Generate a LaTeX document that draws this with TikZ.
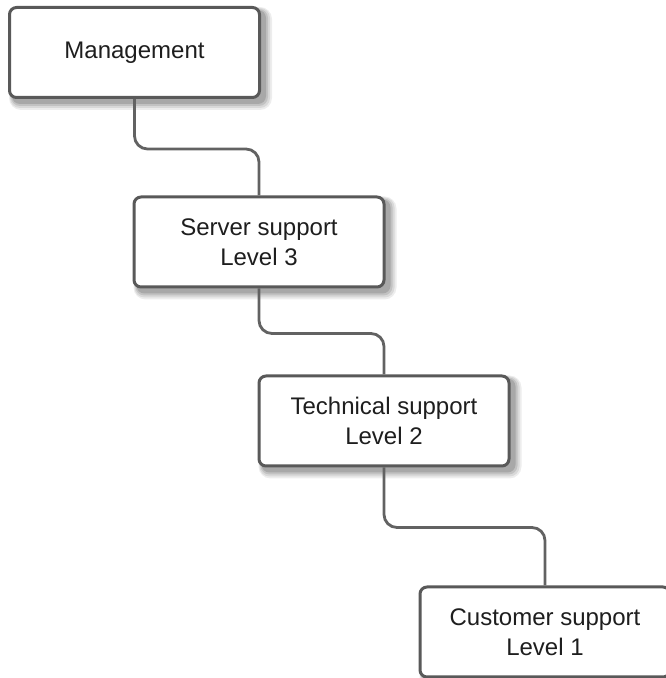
\documentclass[tikz,border=0pt]{standalone}
\usepackage{fontspec}
\setmainfont{Liberation Sans}
\usetikzlibrary{calc, backgrounds}

\definecolor{boxline}{HTML}{595959}
\definecolor{linkline}{HTML}{626262}
\definecolor{boxtext}{HTML}{1E1E1E}

\begin{document}
\begin{tikzpicture}[x=1pt, y=1pt,
    level/.style={draw=boxline, line width=3pt, fill=white, rounded corners=7pt,
        minimum width=250pt, minimum height=90pt, inner sep=0pt, align=center,
        text=boxtext, font=\fontsize{24}{30}\selectfont},
    link/.style={draw=linkline, line width=2.8pt, rounded corners=13pt}]
    \useasboundingbox (0, 0) rectangle (665, 678);

    \node [level] (mgmt) at (134.5, 625.5) {Management};
    \node [level] (server) at (259, 436) {Server support\\Level 3};
    \node [level] (tech) at (384, 257) {Technical support\\Level 2};
    \node [level] (customer) at (545, 46) {Customer support\\Level 1};

    \draw [link] (mgmt.south) -- ++(0, -50) -| (server.north);
    \draw [link] (server.south) -- ++(0, -45) -| (tech.north);
    \draw [link] (tech.south) -- ++(0, -60) -| (customer.north);

    % soft shadows behind the boxes
    \begin{scope}[on background layer]
        \foreach \n in {mgmt, server, tech, customer} {
            \fill [black!7, rounded corners=12pt] ($(\n.south west) + (1, -11)$) rectangle ($(\n.north east) + (11, -1)$);
            \fill [black!15, rounded corners=10pt] ($(\n.south west) + (2, -9)$) rectangle ($(\n.north east) + (9, -2)$);
            \fill [black!24, rounded corners=9pt] ($(\n.south west) + (3, -7)$) rectangle ($(\n.north east) + (7, -3)$);
            \fill [black!34, rounded corners=8pt] ($(\n.south west) + (4, -5)$) rectangle ($(\n.north east) + (5, -4)$);
        }
    \end{scope}
\end{tikzpicture}
\end{document}
